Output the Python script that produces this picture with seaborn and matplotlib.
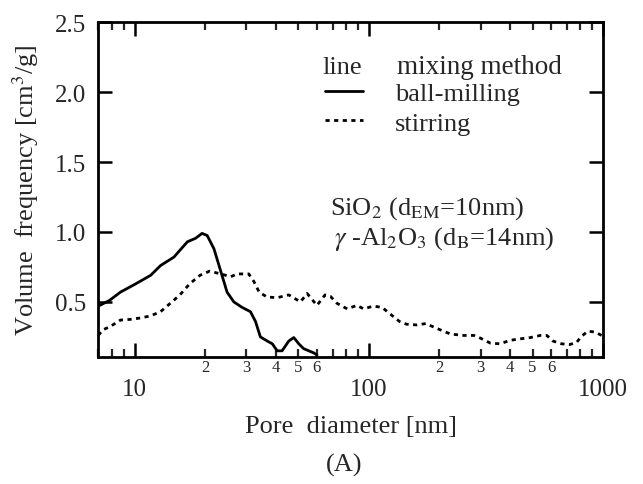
import numpy as np
import pandas as pd
import matplotlib
matplotlib.use("Agg")
import matplotlib.pyplot as plt
import seaborn as sns
from matplotlib.ticker import FixedLocator, FixedFormatter

# ---------------- data ----------------
ball_x = [7.0, 7.8, 8.7, 10.0, 11.7, 12.9, 14.7, 16.8, 18.2, 19.4, 20.4, 21.8, 23.3, 24.8,
          26.5, 28.8, 31.2, 32.8, 34.4, 36.8, 38.7, 40.6, 42.6, 45.5, 47.8, 50.2, 52.7, 58.2, 60.0]
ball_y = [0.47, 0.51, 0.57, 0.625, 0.69, 0.76, 0.82, 0.93, 0.955, 0.99, 0.975, 0.88, 0.72, 0.57,
          0.50, 0.46, 0.43, 0.36, 0.25, 0.22, 0.20, 0.15, 0.15, 0.22, 0.245, 0.20, 0.165, 0.135, 0.12]

stir_x = [7.0, 7.3, 7.8, 8.7, 9.6, 10.6, 11.7, 12.9, 14.2, 15.6, 17.2, 19.0, 20.9, 23.3, 25.7,
          27.4, 30.7, 32.3, 34.0, 36.7, 40.6, 45.5, 51.0, 54.5, 60.0, 65.0, 68.5, 73.0, 80.8,
          89.0, 94.9, 104.5, 114.0, 124.0, 135.0, 145.0, 160.0, 175.0, 195.0, 223.0, 254.0,
          281.0, 300.0, 330.0, 364.0, 400.0, 440.0, 490.0, 540.0, 575.0, 610.0, 665.0, 720.0,
          770.0, 810.0, 860.0, 920.0, 1000.0]
stir_y = [0.26, 0.30, 0.32, 0.37, 0.375, 0.385, 0.40, 0.43, 0.49, 0.55, 0.63, 0.69, 0.72, 0.70,
          0.68, 0.70, 0.70, 0.645, 0.57, 0.535, 0.53, 0.55, 0.50, 0.56, 0.475, 0.55, 0.54, 0.49,
          0.45, 0.475, 0.45, 0.47, 0.46, 0.41, 0.36, 0.34, 0.335, 0.345, 0.31, 0.27, 0.26, 0.26,
          0.24, 0.205, 0.20, 0.225, 0.235, 0.245, 0.26, 0.26, 0.22, 0.20, 0.195, 0.21, 0.255,
          0.29, 0.285, 0.255]

methods = ["ball-milling", "stirring"]
x_major = [10, 100, 1000]
x_major_labels = ["10", "100", "1000"]
x_minor = [7, 8, 9, 20, 30, 40, 50, 60, 70, 80, 90, 200, 300, 400, 500, 600, 700, 800, 900]
x_minor_labels = ["", "", "", "2", "3", "4", "5", "6", "", "", "", "2", "3", "4", "5", "6", "", "", ""]
y_ticks = [0.5, 1.0, 1.5, 2.0, 2.5]
y_tick_labels = ["0.5", "1.0", "1.5", "2.0", "2.5"]

df_ball = pd.DataFrame({"x": ball_x, "y": ball_y})
df_stir = pd.DataFrame({"x": stir_x, "y": stir_y})

# ---------------- style ----------------
sns.set_style("ticks")
plt.rcParams["font.family"] = ["Liberation Serif", "DejaVu Serif"]
plt.rcParams["mathtext.fontset"] = "stix"

fig = plt.figure(figsize=(6.43, 4.85), dpi=100)
ax = fig.add_axes([0.153, 0.2625, 0.785, 0.6895])

sns.lineplot(data=df_ball, x="x", y="y", ax=ax, color="black", lw=2.0,
             label=methods[0], estimator=None, sort=False)
sns.lineplot(data=df_stir, x="x", y="y", ax=ax, color="black", lw=2.0,
             linestyle=(0, (1.5, 1.6)), label=methods[1], estimator=None, sort=False)

ax.set_xscale("log")
ax.set_xlim(7, 1000)
ax.set_ylim(0.108, 2.5)

ax.xaxis.set_major_locator(FixedLocator(x_major))
ax.xaxis.set_major_formatter(FixedFormatter(x_major_labels))
ax.xaxis.set_minor_locator(FixedLocator(x_minor))
ax.xaxis.set_minor_formatter(FixedFormatter(x_minor_labels))
ax.set_yticks(y_ticks)
ax.set_yticklabels(y_tick_labels)
ax.yaxis.set_minor_locator(FixedLocator([]))

for s in ax.spines.values():
    s.set_linewidth(2.0)
    s.set_color("black")
    s.set_visible(True)

ax.tick_params(axis="both", which="major", direction="in", length=10, width=1.8,
               top=True, right=True, labelsize=18, color="black")
ax.tick_params(axis="x", which="major", pad=15)
ax.tick_params(axis="y", which="major", pad=9)
ax.tick_params(axis="x", which="minor", direction="in", length=6, width=1.6,
               top=True, labelsize=12, pad=2)

ax.set_xlabel("Pore  diameter [nm]", fontsize=19, labelpad=11)
ax.set_ylabel("Volume  frequency [cm$^3$/g]", fontsize=19, labelpad=10)

# legend
leg = ax.legend(loc="upper left", bbox_to_anchor=(0.449, 0.822), frameon=False,
                fontsize=19, handlelength=1.45, handletextpad=1.2, labelspacing=0.22,
                borderpad=0, borderaxespad=0)
ax.text(0.443, 0.848, "line", transform=ax.transAxes, fontsize=19, va="baseline", ha="left")
ax.text(0.591, 0.848, "mixing method", transform=ax.transAxes, fontsize=19.5, va="baseline", ha="left")

ax.text(0.459, 0.427, "SiO$_2$ (d$_{\\rm EM}$=10nm)", transform=ax.transAxes, fontsize=19,
        va="baseline", ha="left")
ax.text(0.466, 0.337, "$\\gamma$ -Al$_2$O$_3$ (d$_{\\rm B}$=14nm)", transform=ax.transAxes, fontsize=19,
        va="baseline", ha="left")

fig.text(0.535, 0.04, "(A)", fontsize=19, ha="center", va="center")

fig.savefig("out.png", dpi=100)
